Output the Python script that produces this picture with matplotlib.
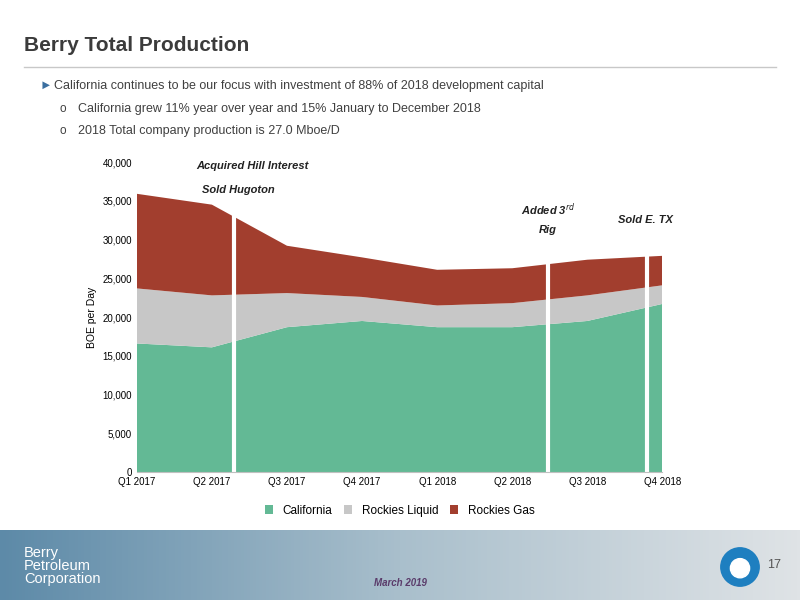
import matplotlib
matplotlib.use("Agg")
import matplotlib.pyplot as plt
from matplotlib.patches import Ellipse
from matplotlib.colors import LinearSegmentedColormap
import numpy as np

quarters = ["Q1 2017", "Q2 2017", "Q3 2017", "Q4 2017", "Q1 2018", "Q2 2018", "Q3 2018", "Q4 2018"]
california = [16600, 16100, 18700, 19500, 18700, 18700, 19500, 21700]
rockies_liquid = [7100, 6700, 4400, 3100, 2800, 3100, 3300, 2400]
rockies_gas = [12200, 11700, 6100, 5100, 4600, 4500, 4600, 3800]
event_positions = [1.3, 5.48, 6.79]

plt.rcParams['font.family'] = ['Liberation Sans', 'DejaVu Sans']
fig = plt.figure(figsize=(8, 6), dpi=100)

fig.text(0.03, 0.915, "Berry Total Production", fontsize=15, fontweight='bold', color='#3b3b3b')
fig.add_artist(plt.Line2D([0.03, 0.97], [0.888, 0.888], color='#c8c8c8', lw=1))
fig.text(0.05, 0.852, "►", fontsize=9, color='#3b6fa0')
fig.text(0.068, 0.852, "California continues to be our focus with investment of 88% of 2018 development capital", fontsize=9, color='#404040')
fig.text(0.075, 0.814, "o", fontsize=8.5, color='#404040')
fig.text(0.097, 0.814, "California grew 11% year over year and 15% January to December 2018", fontsize=9, color='#404040')
fig.text(0.075, 0.776, "o", fontsize=8.5, color='#404040')
fig.text(0.097, 0.776, "2018 Total company production is 27.0 Mboe/D", fontsize=9, color='#404040')

ax = fig.add_axes([0.171, 0.213, 0.657, 0.517])
x = np.arange(len(quarters))
ax.stackplot(x, california, rockies_liquid, rockies_gas,
             colors=['#63b995', '#c7c7c7', '#a23e2e'],
             labels=['California', 'Rockies Liquid', 'Rockies Gas'])
for p in event_positions:
    ax.axvline(p, color='white', lw=3)
ax.set_xlim(0, 7)
ax.set_ylim(0, 40000)
ax.set_xticks(x)
ax.set_xticklabels(quarters, fontsize=7)
ax.set_yticks(range(0, 40001, 5000))
ax.set_yticklabels([f"{v:,}" for v in range(0, 40001, 5000)], fontsize=7)
ax.set_ylabel("BOE per Day", fontsize=7.5)
for s in ['top', 'right', 'left']:
    ax.spines[s].set_visible(False)
ax.spines['bottom'].set_color('#c0c0c0')
ax.tick_params(length=0)
ax.legend(loc='upper center', bbox_to_anchor=(0.5, -0.07), ncol=3, frameon=False,
          fontsize=8.5, handlelength=0.7, handleheight=0.7, columnspacing=1)

ann = dict(fontsize=8, fontweight='bold', style='italic', color='#222222', ha='center')
fig.text(0.315, 0.718, "Acquired Hill Interest", **ann)
fig.text(0.298, 0.678, "Sold Hugoton", **ann)
fig.text(0.685, 0.642, "Added 3$^{rd}$", **ann)
fig.text(0.685, 0.612, "Rig", **ann)
fig.text(0.807, 0.628, "Sold E. TX", **ann)

fax = fig.add_axes([0, 0, 1, 0.117])
grad = np.linspace(0, 1, 256).reshape(1, -1)
cmap = LinearSegmentedColormap.from_list('f', ['#5d8aa8', '#a9bfcc', '#dfe3e6'])
fax.imshow(grad, aspect='auto', cmap=cmap, extent=[0, 1, 0, 1])
fax.set_xlim(0, 1); fax.set_ylim(0, 1); fax.axis('off')
fax.text(0.03, 0.2, "Berry\nPetroleum\nCorporation", color='white', fontsize=10.5, va='bottom', linespacing=0.9)
fax.text(0.5, 0.2, "March 2019", fontsize=7, fontweight='bold', style='italic', color='#5a3b6a', ha='center')
fax.text(0.968, 0.45, "17", fontsize=9, color='#555555', ha='center')
fig.add_artist(Ellipse((0.925, 0.055), 0.048, 0.064, color='#1e7fc0'))
fig.add_artist(Ellipse((0.925, 0.053), 0.024, 0.032, color='white'))
fig.savefig("out.png", dpi=100)
